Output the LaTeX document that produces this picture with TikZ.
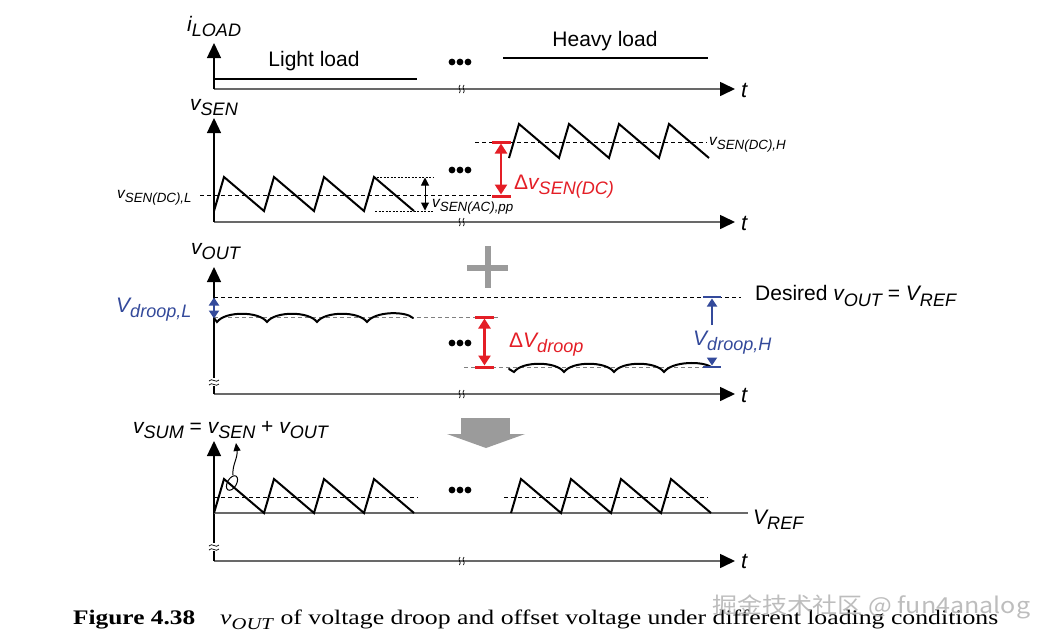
\documentclass[tikz,border=0pt]{standalone}
\usepackage{fontspec}
\usepackage{graphicx}
\setmainfont{Liberation Sans}
\newfontfamily\capfont{Liberation Serif}
\newfontfamily\cjk{Noto Sans CJK SC}
\usetikzlibrary{arrows.meta}
\definecolor{myred}{RGB}{228,30,38}
\definecolor{myblue}{RGB}{52,74,155}
\definecolor{axgray}{RGB}{105,105,105}
\definecolor{bigray}{RGB}{155,155,155}
\newcommand{\sv}[2]{{\itshape #1\raisebox{-0.25em}{\scalebox{0.86}{#2}}}}
\newcommand{\threedots}[2]{\foreach \dx in {-8,0,8}{\fill ({#1+\dx},#2) circle (3.4);}}
\newcommand{\hbreak}[1]{\draw[line width=0.7pt] (460,#1-4) .. controls (457,#1-1) and (462,#1+1) .. (459.5,#1+4);
  \draw[line width=0.7pt] (464,#1-4) .. controls (461,#1-1) and (466,#1+1) .. (463.5,#1+4);}
\newcommand{\vbreak}[1]{\fill[white] (209,#1-4) rectangle (219,#1+4);
  \draw[line width=0.7pt] (209,#1-1) .. controls (212,#1-5) and (216,#1+2) .. (219,#1-2);
  \draw[line width=0.7pt] (209,#1+3) .. controls (212,#1-1) and (216,#1+6) .. (219,#1+2);}
\begin{document}
\begin{tikzpicture}[x=1pt,y=-1pt,
  lbl/.style={inner sep=0pt, font=\fontsize{21}{21}\selectfont},
  slbl/.style={inner sep=0pt, font=\fontsize{15.5}{15.5}\selectfont},
  yax/.style={line width=1.3pt, -{Triangle[length=15pt,width=14pt]}},
  xax/.style={axgray, line width=1.6pt, -{Triangle[length=15pt,width=14pt,color=black]}},
  wave/.style={line width=2pt},
  ripple/.style={line width=2pt, line cap=round},
  dsh/.style={line width=0.9pt, dash pattern=on 4pt off 3pt},
  gdsh/.style={gray, line width=0.9pt, dash pattern=on 4pt off 3pt},
  redarr/.style={myred, line width=2.8pt, {Triangle[length=10pt,width=12pt]}-{Triangle[length=10pt,width=12pt]}},
  redbar/.style={myred, line width=3pt},
  bluearr/.style={myblue, line width=1.8pt, -{Triangle[length=8pt,width=10pt]}},
  bluebar/.style={myblue, line width=2.2pt},
  tlbl/.style={lbl, anchor=west, font=\fontsize{22}{22}\selectfont\itshape}
]
\useasboundingbox (0,0) rectangle (1051,643);
\fill[white] (0,0) rectangle (1051,643);

% ---------------- Panel 1: i_LOAD ----------------
\coordinate (o1) at (214,89);
\draw[xax] (o1) -- (735,89);
\draw[yax] (o1) -- (214,43);
\hbreak{89}
\node[lbl, anchor=base west] (iload) at (187,31) {\sv{i}{LOAD}};
\node[tlbl] (t1) at (741,90) {t};
\draw[line width=1.2pt] (214,79) -- (417,79);
\draw[line width=1.2pt] (503,58) -- (708,58);
\node[lbl] (light) at (314,61) {Light load};
\node[lbl] (heavy) at (605,41) {Heavy load};
\threedots{460}{62}

% ---------------- Panel 2: v_SEN ----------------
\coordinate (o2) at (214,222);
\draw[xax] (o2) -- (735,222);
\draw[yax] (o2) -- (214,118);
\hbreak{222}
\node[lbl, anchor=base west] (vsen) at (190,110) {\sv{v}{SEN}};
\node[tlbl] (t2) at (741,223) {t};
\draw[dsh] (200,195) -- (493,195);
\draw[dsh] (475,142) -- (707,142);
\draw[wave] (214,211) \foreach \i in {1,...,4}{ -- ++(10,-34) -- ++(40,34)};
\draw[wave] (509,158) \foreach \i in {1,...,4}{ -- ++(10,-34) -- ++(40,34)};
\draw[dsh, dash pattern=on 2pt off 1.5pt] (373,177) -- (433,177);
\draw[dsh, dash pattern=on 2pt off 1.5pt] (375,211) -- (433,211);
\draw[line width=1pt, {Triangle[length=8pt,width=8pt]}-{Triangle[length=8pt,width=8pt]}] (425,177.5) -- (425,210.5);
\node[slbl, anchor=west] (vdcl) at (117,198) {\sv{v}{SEN(DC),L}};
\node[slbl, anchor=west] (vacpp) at (432,207) {\sv{v}{SEN(AC),pp}};
\node[slbl, anchor=west] (vdch) at (709,145) {\sv{v}{SEN(DC),H}};
\draw[redbar] (492,142) -- (511,142);
\draw[redbar] (492,196) -- (511,196);
\draw[redarr] (501,143.5) -- (501,194.5);
\node[lbl, anchor=west, text=myred] (dvsen) at (514,187) {Δ\sv{v}{SEN(DC)}};
\threedots{460}{170}

% ---------------- Plus sign ----------------
\fill[bigray] (467,264.5) rectangle (508,270.5);
\fill[bigray] (484.5,246) rectangle (490.5,288);

% ---------------- Panel 3: v_OUT ----------------
\coordinate (o3) at (214,394);
\draw[xax] (o3) -- (735,394);
\draw[yax] (o3) -- (214,267);
\hbreak{394}
\vbreak{382}
\node[lbl, anchor=base west] (vout) at (191,254) {\sv{v}{OUT}};
\node[tlbl] (t3) at (741,395) {t};
\draw[dsh] (214,297) -- (741,297);
\node[lbl, anchor=west] (desired) at (755,296) {Desired \sv{v}{OUT} = \sv{V}{REF}};
\draw[gdsh] (214,317) -- (498,317);
\draw[gdsh] (464,367) -- (712,367);
\draw[ripple] (214,318) .. controls (215,320) .. (217,322)
  .. controls (225,311) and (259,311) .. (267,322)
  .. controls (275,311) and (309,311) .. (317,322)
  .. controls (325,311) and (359,311) .. (367,322)
  .. controls (375,311) and (406,311) .. (413,318);
\draw[ripple] (509,369) .. controls (511,371) .. (514,372)
  .. controls (522,361) and (556,361) .. (564,372)
  .. controls (572,361) and (606,361) .. (614,372)
  .. controls (622,361) and (656,361) .. (664,372)
  .. controls (672,361) and (703,361) .. (711,367);
\draw[bluearr] (214,308) -- (214,297.5);
\draw[bluearr] (214,308) -- (214,318.5);
\node[lbl, anchor=west, text=myblue] (vdl) at (116,310) {\sv{V}{droop,L}};
\draw[redbar] (475,317) -- (494,317);
\draw[redbar] (475,367) -- (494,367);
\draw[redarr] (484.5,318.5) -- (484.5,365.5);
\node[lbl, anchor=west, text=myred] (dvd) at (509,345) {Δ\sv{V}{droop}};
\draw[bluebar] (703,297) -- (721,297);
\draw[bluebar] (703,367) -- (721,367);
\draw[bluearr] (712,325) -- (712,298.5);
\draw[bluearr] (712,358) -- (712,365.5);
\node[lbl, anchor=west, text=myblue] (vdh) at (693,343) {\sv{V}{droop,H}};
\threedots{460}{343}

% ---------------- Down arrow ----------------
\fill[bigray] (461,418) rectangle (510,434);
\fill[bigray] (447,434) -- (525,434) -- (486,448) -- cycle;

% ---------------- Panel 4: v_SUM ----------------
\coordinate (o4) at (214,561);
\draw[xax] (o4) -- (735,561);
\draw[yax] (o4) -- (214,441);
\hbreak{561}
\vbreak{547}
\node[lbl, anchor=base west] (vsum) at (133,433) {\sv{v}{SUM} = \sv{v}{SEN} + \sv{v}{OUT}};
\node[tlbl] (t4) at (741,561) {t};
\draw[axgray, line width=1.8pt] (214,513) -- (748,513);
\node[lbl, anchor=base west] (vref) at (753,524) {\sv{V}{REF}};
\draw[dsh] (214,497) -- (418,497);
\draw[dsh] (504,497) -- (708,497);
\draw[wave] (214,513) \foreach \i in {1,...,4}{ -- ++(10,-34) -- ++(40,34)};
\draw[wave] (511,513) \foreach \i in {1,...,4}{ -- ++(10,-34) -- ++(40,34)};
\draw[line width=1pt, rotate around={-30:(232,483)}] (232,483) ellipse (4.5 and 8);
\coordinate (ell) at (233,475);
\coordinate (tip) at (236,443);
\draw[line width=1pt, -{Triangle[length=8pt,width=7pt]}] (ell) .. controls (232,465) and (238,458) .. (tip);
\threedots{460}{490}

% ---------------- Caption ----------------
\node[anchor=base west, inner sep=0pt] (fig) at (73,624)
  {\capfont\fontsize{20.7}{20.7}\selectfont\resizebox{122pt}{\height}{\bfseries Figure 4.38}};
\node[anchor=base west, inner sep=0pt] (cap) at (220,624)
  {\capfont\fontsize{20.7}{20.7}\selectfont\resizebox{778pt}{\height}{\textit{v}\raisebox{-0.25em}{\scalebox{0.8}{\textit{OUT}}} of voltage droop and offset voltage under different loading conditions}};
\node[anchor=west, inner sep=0pt, text=gray!60, opacity=0.85] (wm) at (712,607)
  {\resizebox{318pt}{\height}{\cjk\fontsize{22}{22}\selectfont 掘金技术社区 @ fun4analog}};
\end{tikzpicture}
\end{document}
